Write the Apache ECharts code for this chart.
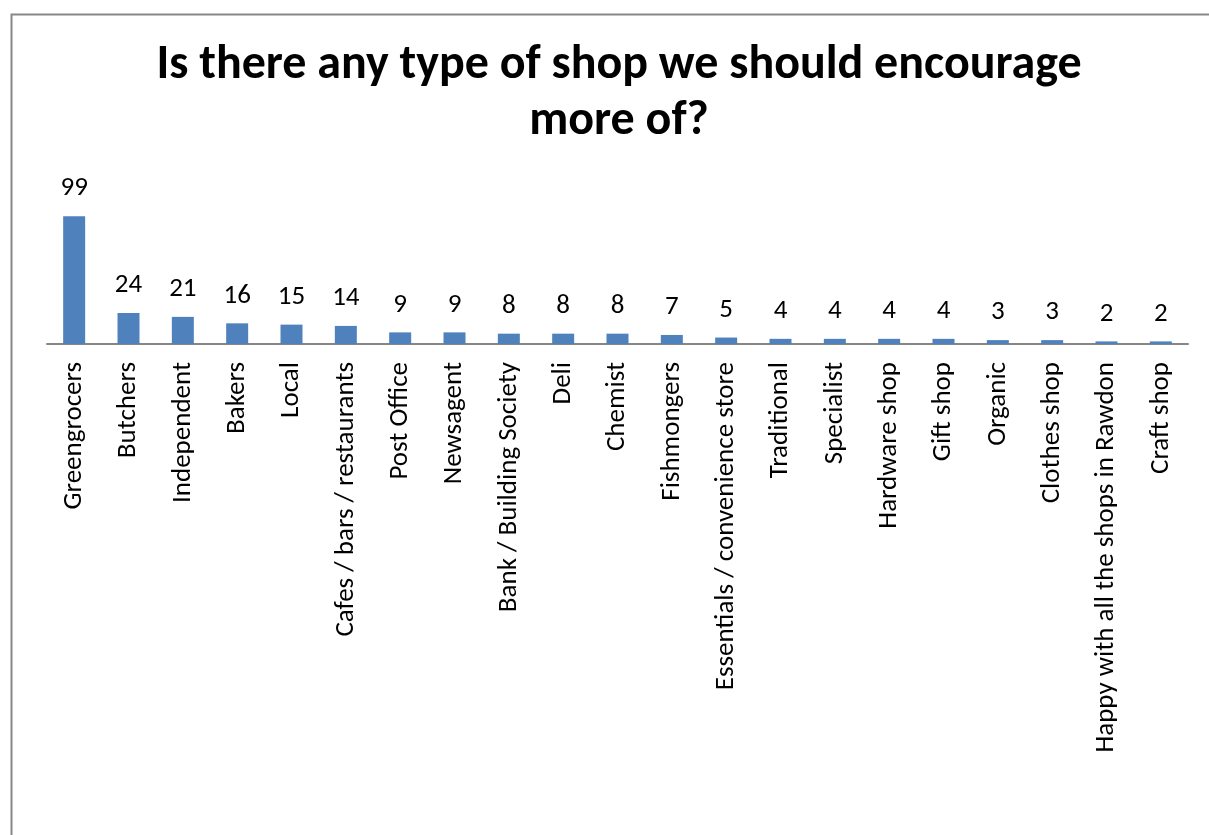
<!DOCTYPE html>
<html>
<head>
<meta charset="utf-8">
<title>Is there any type of shop we should encourage more of?</title>
<script src="https://cdn.jsdelivr.net/npm/echarts@6/dist/echarts.min.js"></script>
<style>
  html, body { margin: 0; padding: 0; background: #ffffff; }
  #chart { width: 1209px; height: 835px; }
</style>
</head>
<body>
<div id="chart"></div>
<script>
// Shop types suggested, in descending order of mentions
const categories = [
  'Greengrocers', 'Butchers', 'Independent', 'Bakers', 'Local',
  'Cafes / bars / restaurants', 'Post Office', 'Newsagent',
  'Bank / Building Society', 'Deli', 'Chemist', 'Fishmongers',
  'Essentials / convenience store', 'Traditional', 'Specialist',
  'Hardware shop', 'Gift shop', 'Organic', 'Clothes shop',
  'Happy with all the shops in Rawdon', 'Craft shop'
];
// Number of responses per shop type
const responses = [99, 24, 21, 16, 15, 14, 9, 9, 8, 8, 8, 7, 5, 4, 4, 4, 4, 3, 3, 2, 2];

const titleText = 'Is there any type of shop we should encourage\nmore of?';
const FONT = 'Carlito, Lato, "Liberation Sans", sans-serif';

const chart = echarts.init(document.getElementById('chart'), null, { renderer: 'canvas' });

chart.setOption({
  backgroundColor: '#ffffff',
  animation: false,
  graphic: [{
    type: 'rect',
    left: 9, top: 12,
    shape: { width: 1400, height: 1000 },
    style: { fill: 'none', stroke: '#878787', lineWidth: 2 },
    silent: true, z: -1
  }],
  title: {
    text: titleText,
    left: 614,
    textAlign: 'center',
    top: 33,
    textStyle: {
      fontFamily: FONT,
      fontSize: 48,
      fontWeight: 'bold',
      color: '#000000',
      lineHeight: 56
    }
  },
  grid: { left: 47, right: 21, top: 189, bottom: 491, containLabel: false },
  xAxis: {
    type: 'category',
    data: categories,
    axisLine: { show: true, lineStyle: { color: '#868686', width: 2 } },
    axisTick: { show: false },
    axisLabel: {
      interval: 0,
      rotate: 90,
      margin: 18,
      fontFamily: FONT,
      fontSize: 27,
      color: '#000000'
    }
  },
  yAxis: {
    type: 'value',
    min: 0,
    max: 120,
    show: false,
    splitLine: { show: false }
  },
  series: [{
    type: 'bar',
    data: responses,
    barWidth: 22,
    itemStyle: { color: '#4F81BD' },
    label: {
      show: true,
      position: 'top',
      distance: 14,
      fontFamily: FONT,
      fontSize: 27,
      color: '#000000'
    }
  }]
});
</script>
</body>
</html>
